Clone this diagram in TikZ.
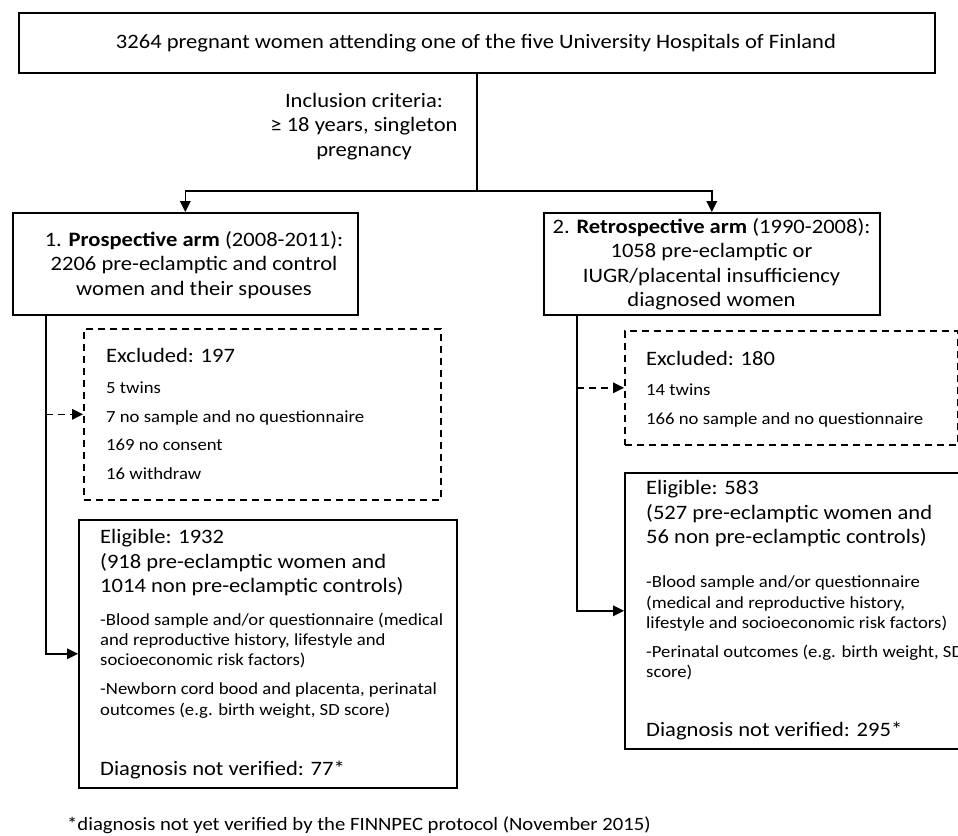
\documentclass[tikz,border=0pt]{standalone}
\usepackage{fontspec}
\setmainfont{Carlito}[FakeStretch=1.1]
\usetikzlibrary{arrows.meta,positioning,calc}

\begin{document}
\begin{tikzpicture}[x=1pt,y=-1pt,
  box/.style={draw,line width=1.6pt,inner sep=0pt,anchor=north west},
  exbox/.style={box,dash pattern=on 7pt off 5pt},
  txt/.style={inner sep=0pt,align=left,anchor=base west},
  big/.style={font=\fontsize{20.5}{24.5}\selectfont},
  small/.style={font=\fontsize{17}{20.3}\selectfont},
  items/.style={font=\fontsize{17}{28.6}\selectfont},
  line/.style={line width=1.6pt},
  arr/.style={line,-{Triangle[length=11pt,width=10.5pt]}}]

\useasboundingbox (0,0) rectangle (958,835);
\clip (0,0) rectangle (958,835);

% boxes
\node[box,minimum width=916pt,minimum height=60pt] (top) at (18,12) {};
\node[box,minimum width=345pt,minimum height=102pt] (pros) at (12,212) {};
\node[box,minimum width=336pt,minimum height=102pt] (retro) at (543,212) {};
\node[exbox,minimum width=357pt,minimum height=171pt] (exA) at (83,328) {};
\node[exbox,minimum width=333pt,minimum height=114pt] (exB) at (624,330) {};
\node[box,minimum width=378pt,minimum height=268pt] (eligA) at (78,519) {};
\node[box,minimum width=360pt,minimum height=276pt] (eligB) at (624,472) {};

% texts (base = baseline of the last line)
\node[big,inner sep=0pt,anchor=base] (topText) at (476,48)
  {3264 pregnant women attending one of the five University Hospitals of Finland};
\node[big,inner sep=0pt,align=center,anchor=base] (incl) at (364,156)
  {Inclusion criteria:\\≥ 18 years, singleton\\pregnancy};
\node[big,inner sep=0pt,align=center,anchor=base] (prosText) at (194,295)
  {1. \textbf{Prospective arm} (2008-2011):\\2206 pre-eclamptic and control\\women and their spouses};
\node[big,inner sep=0pt,align=center,anchor=base] (retroText) at (711.5,306.5)
  {2. \textbf{Retrospective arm} (1990-2008):\\1058 pre-eclamptic or\\IUGR/placental insufficiency\\diagnosed women};

\node[txt,big] (exAHead) at (106,362.3) {Excluded: 197};
\node[txt,items] (exAList) at (106,479.2)
  {5 twins\\7 no sample and no questionnaire\\169 no consent\\16 withdraw};
\node[txt,big] (exBHead) at (646,365) {Excluded: 180};
\node[txt,items] (exBList) at (646,424.5)
  {14 twins\\166 no sample and no questionnaire};

\node[txt,big] (eligAHead) at (100,592.8)
  {Eligible: 1932\\(918 pre-eclamptic women and\\1014 non pre-eclamptic controls)};
\node[txt,small] (eligAList) at (100,715.2)
  {-Blood sample and/or questionnaire (medical\\and reproductive history, lifestyle and\\socioeconomic risk factors)\\[9pt]%
   -Newborn cord bood and placenta, perinatal\\outcomes (e.g. birth weight, SD score)};
\node[txt,big] (eligAFoot) at (100,775) {Diagnosis not verified: 77*};

\node[txt,big] (eligBHead) at (646,543.5)
  {Eligible: 583\\(527 pre-eclamptic women and\\56 non pre-eclamptic controls)};
\node[txt,small] (eligBList) at (646,677.9)
  {-Blood sample and/or questionnaire\\(medical and reproductive history,\\lifestyle and socioeconomic risk factors)\\[9pt]%
   -Perinatal outcomes (e.g. birth weight, SD\\score)};
\node[txt,big] (eligBFoot) at (646,736.7) {Diagnosis not verified: 295*};

\node[txt,font=\fontsize{18.8}{22}\selectfont] (note) at (67,830)
  {*diagnosis not yet verified by the FINNPEC protocol (November 2015)};

% connectors
\coordinate (split) at (top.south |- 0,191);
\draw[line] (top.south) -- (split);
\draw[arr] (split) -| (pros.north);
\draw[arr] (split) -| (retro.north);

\coordinate (trunkA) at ($(pros.south west)+(34,0)$);
\coordinate (trunkB) at ($(retro.south west)+(34,0)$);
\draw[arr] (trunkA) |- (eligA.west);
\draw[arr] (trunkB) |- (eligB.west);
\draw[arr,dash pattern=on 7pt off 5pt] (trunkA |- exA.west) -- (exA.west);
\draw[arr,dash pattern=on 7pt off 5pt] (trunkB |- exB.west) -- (exB.west);

\end{tikzpicture}
\end{document}
